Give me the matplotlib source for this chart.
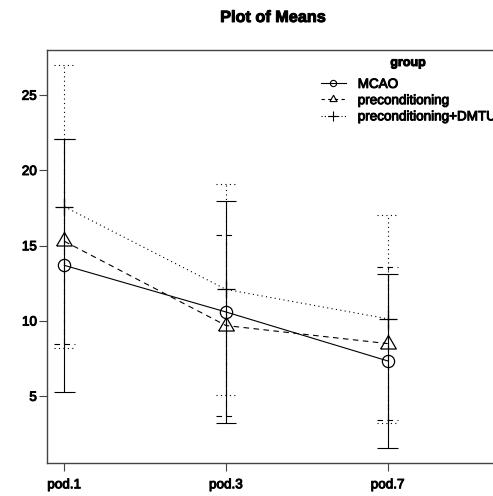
import matplotlib
matplotlib.use("Agg")
import matplotlib.pyplot as plt
import matplotlib.patheffects as pe
from matplotlib.lines import Line2D
import numpy as np

# ---- data ----
times = ["pod.1", "pod.3", "pod.7"]
groups = ["MCAO", "preconditioning", "preconditioning+DMTU"]
means_mcao = [13.7, 10.6, 7.35]
means_pre = [15.3, 9.7, 8.5]
means_dmtu = [17.6, 12.1, 10.15]
err_mcao = [8.4, 7.4, 5.75]
err_pre = [6.8, 6.0, 5.1]
err_dmtu = [9.4, 7.0, 6.9]
yticks = [5, 10, 15, 20, 25]

plt.rcParams["font.family"] = ["Liberation Sans", "DejaVu Sans"]
FS = 9.7
heavy = [pe.withStroke(linewidth=0.7, foreground="black")]

fig = plt.figure(figsize=(4.93, 4.96), dpi=100)
ax = fig.add_axes([0.0947, 0.0659, 0.9175, 0.8323])
ax.set_xlim(0.891, 3.688)
ax.set_ylim(0.55, 27.97)

x = np.arange(1, len(times) + 1)
tri = [(-1, -0.577), (1, -0.577), (0, 1.155), (-1, -0.577)]

styles = [
    (means_mcao, err_mcao, "-", "o", 8.8),
    (means_pre, err_pre, (0, (5, 4)), tri, 13.0),
    (means_dmtu, err_dmtu, (0, (1, 3)), "+", 12.7),
]
cw = 0.064
lw = 0.8
for m, e, ls, mk, ms in styles:
    m = np.asarray(m); e = np.asarray(e)
    lo, hi = m - e, m + e
    ax.vlines(x, lo, hi, colors="k", linestyles=ls, lw=lw)
    ax.hlines(lo, x - cw, x + cw, colors="k", linestyles=ls, lw=lw)
    ax.hlines(hi, x - cw, x + cw, colors="k", linestyles=ls, lw=lw)
    ax.plot(x, m, color="k", ls=ls, lw=lw, marker=mk, ms=ms, mfc="none",
            mec="k", mew=0.9)

for s in ax.spines.values():
    s.set_color("#444444")
    s.set_linewidth(1.0)

ax.set_xticks(x, times)
ax.set_yticks(yticks)
ax.tick_params(axis="both", direction="out", length=5.5, width=0.8,
               color="#444444", labelsize=FS)
ax.tick_params(axis="y", pad=1.5)
ax.tick_params(axis="x", pad=6)
for t in ax.get_xticklabels() + ax.get_yticklabels():
    t.set_path_effects(heavy)

fig.text(273 / 493, 1 - 17.5 / 496, "Plot of Means", ha="center",
         va="center", fontsize=11.7, fontweight="bold", path_effects=heavy)

handles = [
    Line2D([], [], color="k", ls="-", lw=lw, marker="o", ms=4.5, mfc="none", mew=0.8),
    Line2D([], [], color="k", ls=(0, (3, 3)), lw=lw, marker=tri, ms=6, mfc="none", mew=0.8),
    Line2D([], [], color="k", ls=(0, (1, 2)), lw=lw, marker="+", ms=7, mew=0.8),
]
leg = ax.legend(handles, groups, loc="upper left",
                bbox_to_anchor=(320.7 / 493, 1 - 78.5 / 496),
                bbox_transform=fig.transFigure, frameon=False, borderpad=0,
                borderaxespad=0, handlelength=1.85, handletextpad=0.9,
                labelspacing=0.28, fontsize=FS)
for t in leg.get_texts():
    t.set_path_effects(heavy)
fig.text(408 / 493, 1 - 63 / 496, "group", ha="center", va="center",
         fontsize=9, fontweight="bold", path_effects=heavy)

fig.savefig("out.png", dpi=100)
